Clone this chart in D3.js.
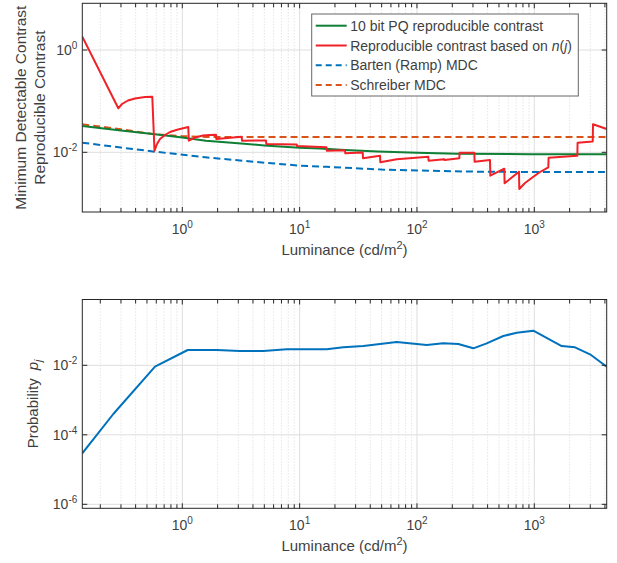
<!DOCTYPE html>
<html><head><meta charset="utf-8">
<script src="https://cdn.jsdelivr.net/npm/d3@7"></script>
<style>
body{margin:0;background:#fff}
text{font-family:"Liberation Sans",Arial,Helvetica,sans-serif;fill:#3f3f3f}
</style>
</head><body>
<svg id="c" width="617" height="563"></svg>
<script>
// ---------- data ----------
const xDomain = [0.1405, 4141];
const topYDomain = [Math.pow(10, -3.167), Math.pow(10, 0.913)];
const botYDomain = [Math.pow(10, -6.115), Math.pow(10, -0.106)];
const xTicks = [1, 10, 100, 1000];
const xTickExp = ["0", "1", "2", "3"];
const topYTicks = [1e-2, 1];
const topYTickExp = ["-2", "0"];
const botYTicks = [1e-6, 1e-4, 1e-2];
const botYTickExp = ["-6", "-4", "-2"];

const legendLabels = ["10 bit PQ reproducible contrast", "Reproducible contrast based on ", "Barten (Ramp) MDC", "Schreiber MDC"];

// 10 bit PQ reproducible contrast
const pqL = [0.1405, 0.3, 0.585, 1, 1.59, 2.98, 5, 10, 14.9, 24.4, 46.4, 101, 221, 918, 4141];
const pqC = [0.0327, 0.0267, 0.0225, 0.0194, 0.0169, 0.0150, 0.01365, 0.0123, 0.0119, 0.0111, 0.01035, 0.0098, 0.00935, 0.0092, 0.0092];

// Reproducible contrast based on n(j)
const njL = [0.1405, 0.2848, 0.3062, 0.3445, 0.3952, 0.4810, 0.5549,
  0.5795, 0.6087, 0.6456, 0.7119, 0.7857, 0.9191, 1.125,
  1.136, 1.283, 1.501, 1.722, 1.938,
  1.949, 3.208, 3.227, 5.169, 5.199, 9.441, 9.497, 16.94,
  17.04, 24.36, 24.51, 34.48, 34.69, 48.42, 48.71, 67.20, 124.9,
  125.7, 171.0, 172.0, 229.6, 230.9, 308.2, 310.0, 419.3, 421.8, 555.1,
  558.5, 740.7, 745.0, 833.4, 975.0, 1119, 1317, 1324, 2326, 2339, 3147, 3166, 4141];
const njC = [1.820, 0.0725, 0.0880, 0.1030, 0.1127, 0.1206, 0.1222,
  0.01075, 0.01453, 0.01820, 0.02179, 0.02493, 0.02790, 0.03123,
  0.01686, 0.01947, 0.02130, 0.02179, 0.02208,
  0.01820, 0.02018, 0.01686, 0.01701, 0.01453, 0.01421, 0.01328, 0.01253,
  0.01075, 0.01094, 0.00956, 0.00991, 0.00763, 0.00858, 0.00637, 0.00730, 0.00820,
  0.00685, 0.00730, 0.00707, 0.00763, 0.00982, 0.00982, 0.00655, 0.00707, 0.00349, 0.00478,
  0.00248, 0.00417, 0.00192, 0.00251, 0.00329, 0.00412, 0.00509, 0.00784, 0.00858, 0.01541, 0.01626, 0.03527, 0.02854];

// Barten (Ramp) MDC
const bartenL = [0.1405, 0.3, 0.58, 1.57, 5, 10, 17, 50, 107, 290, 1000, 4141];
const bartenC = [0.0154, 0.0124, 0.0103, 0.0080, 0.00626, 0.0055, 0.0052, 0.0046, 0.0044, 0.0042, 0.0041, 0.0041];

// Schreiber MDC
const schL = [0.1405, 0.30, 0.58, 1, 1.6, 4141];
const schC = [0.0353, 0.0282, 0.0225, 0.0207, 0.0200, 0.0199];

// Probability p_j
const probL = [0.1405, 0.2582, 0.5852, 1.112, 1.964, 3.103, 4.901, 7.758, 10.07, 17.01, 23.56, 34.89, 67.20, 121.1, 167.7, 225.1, 302.2, 392.9, 544.4, 708.2, 980.8, 1713, 2223, 2984, 4141];
const probP = [2.94e-5, 3.97e-4, 0.00912, 0.02756, 0.02756, 0.02579, 0.02579, 0.02887, 0.02887, 0.02887, 0.03296, 0.03592, 0.04683, 0.03838, 0.04296, 0.04101, 0.03084, 0.04296, 0.06968, 0.08670, 0.09901, 0.03592, 0.03296, 0.02073, 0.00912];

// ---------- drawing ----------
const svg = d3.select("#c");
svg.append("rect").attr("width", 617).attr("height", 563).attr("fill", "#fff");
const left = 82.3, right = 606.7;
const axisColor = "#262626";
const x = d3.scaleLog().domain(xDomain).range([left, right]);

function minorVals(domain) {
  const out = [];
  for (let e = -1; e <= 3; e++) for (let m = 2; m <= 9; m++) {
    const v = m * Math.pow(10, e);
    if (v > domain[0] && v < domain[1]) out.push(v);
  }
  return out;
}
const xMinor = minorVals(xDomain);

function panel(id, top, bottom, yDomain, yTicks, yExp, series) {
  const g = svg.append("g");
  const y = d3.scaleLog().domain(yDomain).range([bottom, top]);
  g.selectAll(".mg").data(xMinor).enter().append("line")
    .attr("x1", d => x(d)).attr("x2", d => x(d)).attr("y1", top).attr("y2", bottom)
    .attr("stroke", "#cfcfcf").attr("stroke-width", 0.8).attr("stroke-dasharray", "1,2");
  g.selectAll(".Mg").data(xTicks).enter().append("line")
    .attr("x1", d => x(d)).attr("x2", d => x(d)).attr("y1", top).attr("y2", bottom)
    .attr("stroke", "#dedede").attr("stroke-width", 1);
  g.selectAll(".My").data(yTicks).enter().append("line")
    .attr("x1", left).attr("x2", right).attr("y1", d => y(d)).attr("y2", d => y(d))
    .attr("stroke", "#dedede").attr("stroke-width", 1);
  svg.append("clipPath").attr("id", id).append("rect")
    .attr("x", left).attr("y", top).attr("width", right - left).attr("height", bottom - top);
  const lg = g.append("g").attr("clip-path", `url(#${id})`);
  series.forEach(s => {
    const line = d3.line().x(d => x(d[0])).y(d => y(d[1]));
    lg.append("path").datum(d3.zip(s.xs, s.ys)).attr("d", line)
      .attr("fill", "none").attr("stroke", s.color).attr("stroke-width", 2)
      .attr("stroke-linejoin", "round")
      .attr("stroke-dasharray", s.dash || null);
  });
  g.append("rect").attr("x", left).attr("y", top).attr("width", right - left).attr("height", bottom - top)
    .attr("fill", "none").attr("stroke", axisColor).attr("stroke-width", 1);
  const tk = [...xTicks.map(v => [v, 5]), ...xMinor.map(v => [v, 4])];
  tk.forEach(([v, len]) => {
    g.append("line").attr("x1", x(v)).attr("x2", x(v)).attr("y1", bottom).attr("y2", bottom - len).attr("stroke", axisColor);
    g.append("line").attr("x1", x(v)).attr("x2", x(v)).attr("y1", top).attr("y2", top + len).attr("stroke", axisColor);
  });
  yTicks.forEach(v => {
    g.append("line").attr("x1", left).attr("x2", left + 5).attr("y1", y(v)).attr("y2", y(v)).attr("stroke", axisColor);
    g.append("line").attr("x1", right).attr("x2", right - 5).attr("y1", y(v)).attr("y2", y(v)).attr("stroke", axisColor);
  });
  xTicks.forEach((v, i) => {
    const t = g.append("text").attr("x", x(v)).attr("y", bottom + 22).attr("text-anchor", "middle").attr("font-size", 14);
    t.append("tspan").text("10");
    t.append("tspan").attr("dy", -6).attr("font-size", 10).text(xTickExp[i]);
  });
  yTicks.forEach((v, i) => {
    const t = g.append("text").attr("x", left - 5).attr("y", y(v) + 5).attr("text-anchor", "end").attr("font-size", 14);
    t.append("tspan").text("10");
    t.append("tspan").attr("dy", -6).attr("font-size", 10).text(yExp[i]);
  });
  const xl = g.append("text").attr("x", (left + right) / 2).attr("y", bottom + 43).attr("text-anchor", "middle").attr("font-size", 15);
  xl.append("tspan").text("Luminance (cd/m");
  xl.append("tspan").attr("dy", -6).attr("font-size", 11).text("2");
  xl.append("tspan").attr("dy", 6).text(")");
  return {g, y};
}

const cGreen = "#0e7f35", cRed = "#f02127", cBlue = "#0072bd", cOrange = "#d95319";

panel("clipTop", 3.3, 212, topYDomain, topYTicks, topYTickExp, [
  {xs: bartenL, ys: bartenC, color: cBlue, dash: "7,4"},
  {xs: schL, ys: schC, color: cOrange, dash: "7,4"},
  {xs: pqL, ys: pqC, color: cGreen},
  {xs: njL, ys: njC, color: cRed}
]);
panel("clipBot", 299.5, 508.3, botYDomain, botYTicks, botYTickExp, [
  {xs: probL, ys: probP, color: cBlue}
]);

const cy1 = (3.3 + 212) / 2;
svg.append("text").attr("transform", `translate(20,${cy1}) rotate(-90)`).attr("text-anchor", "middle")
  .attr("dominant-baseline", "central").attr("font-size", 15.5).text("Minimum Detectable Contrast");
svg.append("text").attr("transform", `translate(39,${cy1}) rotate(-90)`).attr("text-anchor", "middle")
  .attr("dominant-baseline", "central").attr("font-size", 15.5).text("Reproducible Contrast");
const cy2 = (299.5 + 508.3) / 2;
const yl2 = svg.append("text").attr("transform", `translate(38,${cy2}) rotate(-90)`).attr("text-anchor", "middle")
  .attr("font-size", 15);
yl2.append("tspan").text("Probability");
yl2.append("tspan").attr("dx", 8).attr("font-style", "italic").text("p");
yl2.append("tspan").attr("font-style", "italic").attr("font-size", 11).attr("dy", 4).text("j");

const lgX = 311.7, lgY = 14, lgW = 266.6, lgH = 82;
const leg = svg.append("g");
leg.append("rect").attr("x", lgX).attr("y", lgY).attr("width", lgW).attr("height", lgH)
  .attr("fill", "#fff").attr("stroke", "#666").attr("stroke-width", 1);
const legItems = [
  {label: legendLabels[0], color: cGreen},
  {label: legendLabels[1], color: cRed, nj: true},
  {label: legendLabels[2], color: cBlue, dash: "6,4"},
  {label: legendLabels[3], color: cOrange, dash: "6,4"}
];
legItems.forEach((d, i) => {
  const yy = lgY + 11.7 + i * 19.8;
  leg.append("line").attr("x1", lgX + 4).attr("x2", lgX + 35).attr("y1", yy).attr("y2", yy)
    .attr("stroke", d.color).attr("stroke-width", 2).attr("stroke-dasharray", d.dash || null);
  const t = leg.append("text").attr("x", lgX + 38.5).attr("y", yy + 5).attr("font-size", 14);
  t.append("tspan").text(d.label);
  if (d.nj) {
    t.append("tspan").attr("font-style", "italic").text("n");
    t.append("tspan").text("(");
    t.append("tspan").attr("font-style", "italic").text("j");
    t.append("tspan").text(")");
  }
});
</script>
</body></html>
